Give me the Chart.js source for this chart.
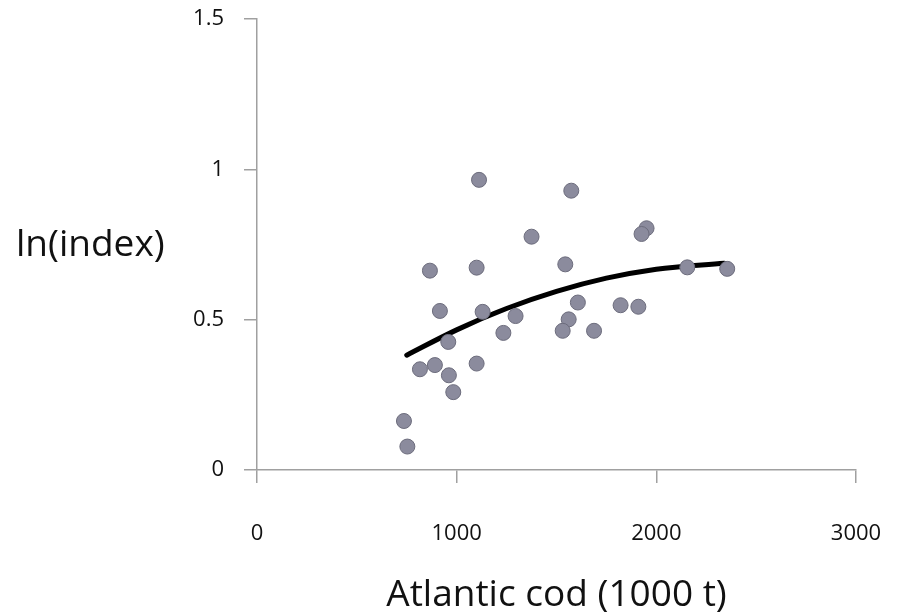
<!DOCTYPE html>
<html>
<head>
<meta charset="utf-8">
<script src="https://cdn.jsdelivr.net/npm/chart.js@4"></script>
<style>
html,body{margin:0;padding:0;background:#fff;}
#wrap{width:904px;height:614px;}
</style>
</head>
<body>
<div id="wrap"><canvas id="c" width="904" height="614"></canvas></div>
<script>
// Observed points (Atlantic cod catch, 1000 t) vs ln(index)
const codX = [1112,1574,1375,866,1100,1544,916,1130,1295,1607,1821,1561,1531,1688,1234,958,816,891,961,1100,983,736,753,1951,1926,2155,2355,1910];
const lnIndex = [0.965,0.929,0.776,0.663,0.673,0.684,0.529,0.526,0.512,0.557,0.548,0.501,0.463,0.463,0.456,0.426,0.335,0.349,0.315,0.354,0.259,0.163,0.078,0.804,0.785,0.674,0.669,0.543];
// Trend line
const trendX = [750,1000,1250,1500,1750,2000,2340];
const trendY = [0.382,0.466,0.537,0.594,0.638,0.668,0.688];
// Axis ticks
const xTicks = [0,1000,2000,3000];
const yTicks = [0,0.5,1,1.5];
const xTitle = 'Atlantic cod (1000 t)';
const yTitle = 'ln(index)';

const scatterData = codX.map((x,i)=>({x:x,y:lnIndex[i]}));
const trendData = trendX.map((x,i)=>({x:x,y:trendY[i]}));

const yTitlePlugin = {
  id:'yTitlePlugin',
  afterDraw(chart){
    const ctx = chart.ctx;
    ctx.save();
    ctx.fillStyle = '#111';
    ctx.font = '37px "Open Sans", sans-serif';
    ctx.textAlign = 'left';
    ctx.textBaseline = 'middle';
    ctx.fillText(yTitle, 16, 245);
    ctx.restore();
  }
};

new Chart(document.getElementById('c'), {
  type:'scatter',
  data:{
    datasets:[
      {
        type:'line',
        data:trendData,
        borderColor:'#000',
        borderWidth:5,
        pointRadius:0,
        fill:false,
        cubicInterpolationMode:'monotone',
        borderCapStyle:'round',
        order:2
      },
      {
        data:scatterData,
        backgroundColor:'#8b8b9d',
        borderColor:'#6c6c7c',
        borderWidth:1,
        pointRadius:7.5,
        order:1
      }
    ]
  },
  options:{
    responsive:false,
    animation:false,
    layout:{padding:{left:0,right:48,top:19,bottom:0}},
    plugins:{legend:{display:false},tooltip:{enabled:false}},
    scales:{
      x:{
        type:'linear',
        min:0,max:3000,
        afterBuildTicks(s){ s.ticks = xTicks.map(v=>({value:v})); },
        afterFit(s){ s.height = 614-470; s.paddingLeft = 0; s.paddingRight = 0; },
        grid:{drawOnChartArea:false,drawTicks:true,tickLength:13,color:'#a0a0a0',lineWidth:1.5},
        border:{color:'#a0a0a0',width:1.5},
        ticks:{color:'#111',font:{family:'"Open Sans", sans-serif',size:22},padding:38,maxRotation:0,callback:v=>String(v)},
        title:{display:true,text:xTitle,color:'#111',font:{family:'"Open Sans", sans-serif',size:37},padding:{top:0,bottom:-4}}
      },
      y:{
        type:'linear',
        min:0,max:1.5,
        afterBuildTicks(s){ s.ticks = yTicks.map(v=>({value:v})); },
        afterFit(s){ s.width = 257; s.paddingTop = 0; s.paddingBottom = 0; },
        grid:{drawOnChartArea:false,drawTicks:true,tickLength:13,color:'#a0a0a0',lineWidth:1.5},
        border:{color:'#a0a0a0',width:1.5},
        ticks:{color:'#111',font:{family:'"Open Sans", sans-serif',size:22},padding:20,callback:v=>String(v)}
      }
    }
  },
  plugins:[yTitlePlugin]
});
</script>
</body>
</html>
